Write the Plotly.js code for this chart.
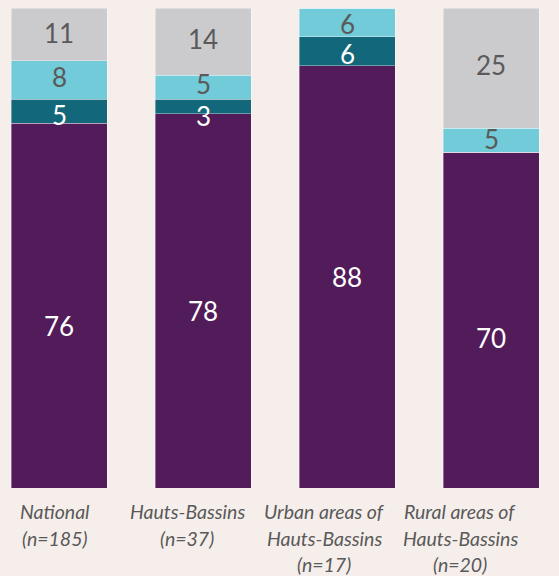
<!DOCTYPE html>
<html>
<head>
<meta charset="utf-8">
<script src="https://cdn.plot.ly/plotly-3.0.1.min.js"></script>
<style>
html,body{margin:0;padding:0;background:#f6eeeb;}
#chart{width:559px;height:576px;}
</style>
</head>
<body>
<div id="chart"></div>
<script>
var categories = ["National", "Hauts-Bassins", "Urban areas of Hauts-Bassins", "Rural areas of Hauts-Bassins"];
var labelLines = [
  ["National", "(n=185)"],
  ["Hauts-Bassins", "(n=37)"],
  ["Urban areas of", "Hauts-Bassins", "(n=17)"],
  ["Rural areas of", "Hauts-Bassins", "(n=20)"]
];
var seriesA = [76, 78, 88, 70];
var seriesB = [5, 3, 6, 0];
var seriesC = [8, 5, 6, 5];
var seriesD = [11, 14, 0, 25];

var colors = ["#521b59", "#12687a", "#72cbd8", "#cbcbcd"];
var textColors = ["#ffffff", "#ffffff", "#5a5a5a", "#5a5a5a"];
var allSeries = [seriesA, seriesB, seriesC, seriesD];

// label vertical nudges in pixels (down positive), per series then per category
var labelNudge = [
  [20, 10, 0, 18],
  [4, 10, 2.5, 0],
  [-3, -3, 1.5, -1],
  [-1, -3, 0, -3]
];

var xs = categories.map(function(c, i){ return i; });

var traces = allSeries.map(function(vals, k){
  return {
    type: "bar",
    x: xs,
    y: vals,
    marker: {color: colors[k], line: {color: "rgba(255,255,255,0.45)", width: 0.8}},
    hoverinfo: "skip",
    showlegend: false
  };
});

var annotations = [];
xs.forEach(function(x, i){
  var base = 0;
  allSeries.forEach(function(vals, k){
    var v = vals[i];
    if (v > 0) {
      annotations.push({
        xref: "x", yref: "y",
        x: x, y: base + v / 2,
        xanchor: "center", yanchor: "middle",
        yshift: -labelNudge[k][i],
        text: String(v),
        showarrow: false,
        font: {family: "Lato, sans-serif", size: 26, color: textColors[k]}
      });
    }
    base += v;
  });
});

var labelX = [55, 187, 324, 460];
var lineY = [511, 538, 564];
labelLines.forEach(function(lines, i){
  lines.forEach(function(t, j){
    annotations.push({
      xref: "paper", yref: "paper",
      x: labelX[i] / 559,
      y: (488 - lineY[j]) / 480,
      xanchor: "center", yanchor: "middle",
      text: "<i>" + t + "</i>",
      showarrow: false,
      font: {family: "Lato, sans-serif", size: 19.5, color: "#595959"}
    });
  });
});

var layout = {
  width: 559, height: 576,
  margin: {l: 0, r: 0, t: 8, b: 88, pad: 0},
  barmode: "stack",
  bargap: 1/3,
  paper_bgcolor: "#f6eeeb",
  plot_bgcolor: "#f6eeeb",
  xaxis: {range: [-59/144, 500/144], showticklabels: false, showgrid: false, zeroline: false, showline: false, ticks: "", fixedrange: true},
  yaxis: {range: [0, 100], showticklabels: false, showgrid: false, zeroline: false, showline: false, ticks: "", fixedrange: true},
  annotations: annotations,
  showlegend: false
};

Plotly.newPlot("chart", traces, layout, {displayModeBar: false, staticPlot: true});
</script>
</body>
</html>
